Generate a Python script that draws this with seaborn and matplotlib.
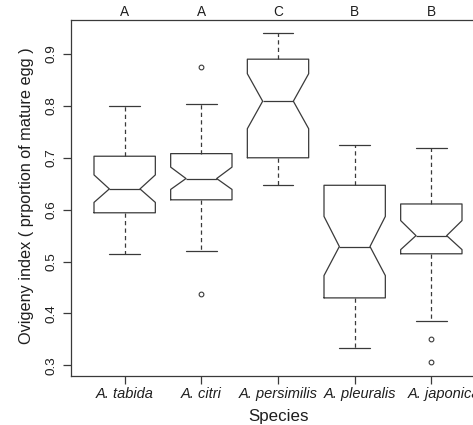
import matplotlib
matplotlib.use("Agg")
import matplotlib.pyplot as plt
import matplotlib.transforms as mtransforms
import seaborn as sns

# Five-number summaries of the ovigeny index per species (notched boxplot)
species = ["A. tabida", "A. citri", "A. persimilis", "A. pleuralis", "A. japonica"]
group_letters = ["A", "A", "C", "B", "B"]
whisker_low = [0.515, 0.521, 0.648, 0.333, 0.385]
quart_1 = [0.594, 0.619, 0.700, 0.430, 0.515]
medians = [0.640, 0.660, 0.809, 0.529, 0.550]
quart_3 = [0.703, 0.708, 0.890, 0.647, 0.611]
whisker_high = [0.800, 0.804, 0.940, 0.725, 0.719]
notch_low = [0.614, 0.639, 0.756, 0.473, 0.523]
notch_high = [0.667, 0.682, 0.862, 0.587, 0.579]
outliers = [[], [0.875, 0.438], [], [], [0.350, 0.306]]
y_ticks = [0.3, 0.4, 0.5, 0.6, 0.7, 0.8, 0.9]

sns.set_theme(style="ticks")
plt.rcParams["font.family"] = ["Liberation Sans", "DejaVu Sans"]

ink = "#3a3a3a"
text_ink = "#1e1e1e"

stats = []
for i, name in enumerate(species):
    stats.append(dict(label=name, whislo=whisker_low[i], q1=quart_1[i], med=medians[i],
                      q3=quart_3[i], whishi=whisker_high[i], cilo=notch_low[i],
                      cihi=notch_high[i], fliers=outliers[i]))

fig = plt.figure(figsize=(4.73, 4.25), dpi=100)
fig.patch.set_facecolor("white")
# Plot region continues past the right edge of the canvas
ax = fig.add_axes([71 / 473, 1 - 376 / 425, 414 / 473, 356 / 425])
ax.set_facecolor("white")

positions = list(range(1, len(species) + 1))
line = dict(color=ink, linewidth=0.9)
ax.bxp(stats, positions=positions, widths=0.8, capwidths=0.4, shownotches=True,
       boxprops=line, medianprops=line, capprops=line,
       whiskerprops=dict(color=ink, linewidth=0.9, linestyle=(0, (3.4, 2.6))),
       flierprops=dict(marker="o", markersize=3.4, markerfacecolor="none",
                       markeredgecolor=ink, markeredgewidth=0.8))

ax.set_xlim(0.3, 5.7)
ax.set_ylim(0.2795, 0.9655)
ax.set_xticks(positions)
ax.set_xticklabels(species, fontsize=10.5, style="italic", color=text_ink)
ax.set_yticks(y_ticks)
ax.set_yticklabels([f"{v:.1f}" for v in y_ticks], fontsize=9.7, color=text_ink,
                   rotation=90, va="center")

for s in ax.spines.values():
    s.set_color(ink)
    s.set_linewidth(0.9)
ax.tick_params(axis="both", direction="out", length=5.8, width=0.9, color=ink)
ax.tick_params(axis="x", pad=2.3)
ax.tick_params(axis="y", pad=4.0)

# the two right-hand species names sit a little right of their ticks
label_shift_px = [0, 0, 0, 5, 13]
for lab, dx in zip(ax.get_xticklabels(), label_shift_px):
    if dx:
        lab.set_transform(lab.get_transform() +
                          mtransforms.ScaledTranslation(dx / 100, 0, fig.dpi_scale_trans))

ax.set_xlabel("Species", fontsize=12.2, color=text_ink)
ax.set_ylabel("Ovigeny index ( prportion of mature egg )", fontsize=11.7, color=text_ink)
ax.xaxis.set_label_coords((278.3 - 71) / 414, -0.092)
ax.yaxis.set_label_coords(-0.090, 0.506)

# Significance group letters above each box
for x, letter in zip(positions, group_letters):
    ax.annotate(letter, xy=(x, 1.0), xycoords=("data", "axes fraction"),
                xytext=(0, 0.8), textcoords="offset points",
                ha="center", va="bottom", fontsize=9.8, color=text_ink)

fig.savefig("out.png", dpi=100, facecolor="white")
